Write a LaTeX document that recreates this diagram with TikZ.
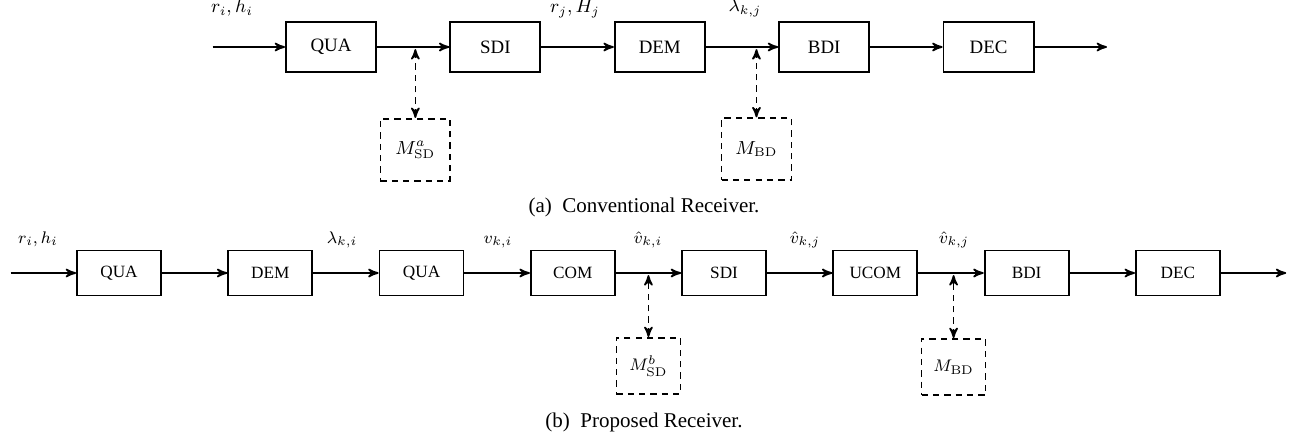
\documentclass[tikz,border=0pt]{standalone}
\usepackage{amsmath}
\usepackage[no-math]{fontspec}
\setmainfont{Liberation Serif}
\usetikzlibrary{arrows,calc,positioning}

\begin{document}
\begin{tikzpicture}[x=0.4763pt,y=-0.4763pt,>=stealth',thick,
	block/.style={draw,line width=0.9pt,minimum width=42.9pt,minimum height=23.8pt,inner sep=0pt},
	mem/.style={draw,dash pattern=on 3pt off 2.4pt,minimum width=33.3pt,minimum height=29.5pt,inner sep=0pt},
	tap/.style={<->,dash pattern=on 3pt off 2.4pt,shorten >=1pt},
	lbl/.style={anchor=base,inner sep=0pt},
	node distance=34.5pt]
	\useasboundingbox (0,0) rectangle (1302,438);
	% (a) conventional receiver
	\begin{scope}[font=\fontsize{9}{11}\selectfont]
		\node[block] (qua_a) at (331,47) {QUA};
		\node[block] [right=of qua_a] (sdi_a) {SDI};
		\node[block] [right=of sdi_a] (dem_a) {DEM};
		\node[block] [right=of dem_a] (bdi_a) {BDI};
		\node[block] [right=of bdi_a] (dec_a) {DEC};
		\coordinate [left=of qua_a] (in_a);
		\coordinate [right=of dec_a] (out_a);
		\coordinate (t1_a) at ($(qua_a.east)!0.53!(sdi_a.west)$);
		\coordinate (t2_a) at ($(dem_a.east)!0.7!(bdi_a.west)$);
		\node[mem] [below=33.8pt of t1_a] (msd_a) {$M^{a}_{\mathrm{SD}}$};
		\node[mem] [below=33.5pt of t2_a] (mbd_a) {$M_{\mathrm{BD}}$};
		\path[->]
			(in_a) edge (qua_a)
			(qua_a) edge (sdi_a)
			(sdi_a) edge (dem_a)
			(dem_a) edge (bdi_a)
			(bdi_a) edge (dec_a)
			(dec_a) edge (out_a);
		\draw[tap] (msd_a) -- (t1_a);
		\draw[tap] (mbd_a) -- (t2_a);
		\node[lbl] at (232,13) {$r_i,h_i$};
		\node[lbl] at (575,13) {$r_j,H_j$};
		\node[lbl] at (745,12) {$\lambda_{k,j}$};
	\end{scope}
	\node[lbl,font=\fontsize{10}{12}\selectfont] (cap_a) at (644,212.7) {(a)~~Conventional Receiver.};
	% (b) proposed receiver
	\begin{scope}[font=\fontsize{8.2}{10}\selectfont,node distance=31.15pt,
		block/.append style={minimum width=40pt,minimum height=21.4pt},
		mem/.append style={minimum width=30.5pt,minimum height=26.7pt}]
		\node[block] (qua1_b) at (119,273) {QUA};
		\node[block] [right=of qua1_b] (dem_b) {DEM};
		\node[block] [right=of dem_b] (qua2_b) {QUA};
		\node[block] [right=of qua2_b] (com_b) {COM};
		\node[block] [right=of com_b] (sdi_b) {SDI};
		\node[block] [right=of sdi_b] (ucom_b) {UCOM};
		\node[block] [right=of ucom_b] (bdi_b) {BDI};
		\node[block] [right=of bdi_b] (dec_b) {DEC};
		\coordinate [left=of qua1_b] (in_b);
		\coordinate [right=of dec_b] (out_b);
		\coordinate (t1_b) at ($(com_b.east)!0.5!(sdi_b.west)$);
		\coordinate (t2_b) at ($(ucom_b.east)!0.54!(bdi_b.west)$);
		\node[mem] [below=30.5pt of t1_b] (msd_b) {$M^{b}_{\mathrm{SD}}$};
		\node[mem] [below=31pt of t2_b] (mbd_b) {$M_{\mathrm{BD}}$};
		\path[->]
			(in_b) edge (qua1_b)
			(qua1_b) edge (dem_b)
			(dem_b) edge (qua2_b)
			(qua2_b) edge (com_b)
			(com_b) edge (sdi_b)
			(sdi_b) edge (ucom_b)
			(ucom_b) edge (bdi_b)
			(bdi_b) edge (dec_b)
			(dec_b) edge (out_b);
		\draw[tap] (msd_b) -- (t1_b);
		\draw[tap] (mbd_b) -- (t2_b);
		\node[lbl] at (38,243) {$r_i,h_i$};
		\node[lbl] at (342,243) {$\lambda_{k,i}$};
		\node[lbl] at (498,243) {$v_{k,i}$};
		\node[lbl] at (648,243) {$\hat{v}_{k,i}$};
		\node[lbl] at (805,243) {$\hat{v}_{k,j}$};
		\node[lbl] at (954,243) {$\hat{v}_{k,j}$};
	\end{scope}
	\node[lbl,font=\fontsize{10}{12}\selectfont] (cap_b) at (644,427.7) {(b)~~Proposed Receiver.};
\end{tikzpicture}
\end{document}
